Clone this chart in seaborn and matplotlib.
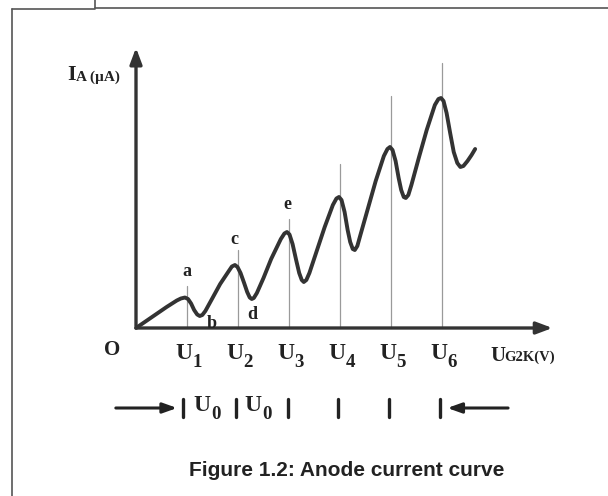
import seaborn as sns
import matplotlib.pyplot as plt
import pandas as pd

# anode current curve (x in units of U, y arbitrary)
volt = [0.0, 0.2, 0.4, 0.6, 0.8, 0.88, 0.96, 1.02, 1.08, 1.14, 1.2, 1.25, 1.3, 1.36,
        1.5, 1.65, 1.82, 1.88, 1.94, 1.99, 2.05, 2.12, 2.18, 2.23, 2.27, 2.31, 2.37,
        2.5, 2.65, 2.84, 2.91, 2.96, 3.01, 3.07, 3.14, 3.2, 3.25, 3.29, 3.34, 3.4,
        3.55, 3.7, 3.86, 3.93, 3.98, 4.03, 4.09, 4.15, 4.2, 4.25, 4.29, 4.34, 4.4,
        4.55, 4.7, 4.86, 4.93, 4.98, 5.03, 5.09, 5.15, 5.2, 5.25, 5.29, 5.34, 5.4,
        5.55, 5.7, 5.86, 5.93, 5.98, 6.03, 6.09, 6.16, 6.23, 6.3, 6.36, 6.42, 6.5,
        6.58, 6.65]
current = [0.0, 0.7, 1.4, 2.1, 2.75, 2.95, 3.05, 2.9, 2.45, 1.8, 1.35, 1.2, 1.3, 1.7,
           3.0, 4.4, 5.7, 6.15, 6.3, 6.1, 5.5, 4.5, 3.6, 3.05, 2.9, 3.0, 3.5,
           5.0, 6.9, 8.9, 9.45, 9.6, 9.35, 8.4, 6.8, 5.5, 4.8, 4.6, 4.8, 5.5,
           7.8, 10.1, 12.3, 12.95, 13.1, 12.8, 11.6, 9.8, 8.6, 7.9, 7.8, 8.2, 9.3,
           12.0, 14.7, 17.2, 17.9, 18.1, 17.8, 16.7, 15.0, 13.8, 13.1, 13.0, 13.3, 14.3,
           17.1, 19.8, 22.3, 22.9, 23.0, 22.7, 21.5, 19.5, 17.6, 16.5, 16.1, 16.2, 16.7,
           17.3, 17.9]

u_pos = [1, 2, 3, 4, 5, 6]
u_subs = ["1", "2", "3", "4", "5", "6"]
guide_top = [4.2, 7.8, 10.9, 16.4, 23.2, 26.5]
point_letters = ["a", "c", "e", "b", "d"]
letter_x = [1.0, 1.93, 2.97, 1.49, 2.27]
letter_y = [5.6, 8.8, 12.3, 0.4, 1.3]
row_ticks = [0.92, 1.96, 2.98, 3.96, 4.96, 5.96]

sns.set_theme(style="white")

fig = plt.figure(figsize=(6.08, 4.96), dpi=100)
ax = fig.add_axes([0, 0, 1, 1])
# 1 unit in x = 51 px, origin at px 136; 1 unit in y = 10 px, origin at py 328
ax.set_xlim(-136 / 51, 472 / 51)
ax.set_ylim(-16.8, 32.8)
ax.axis("off")

# frame of the scanned page
line_kw = dict(color="#555555", lw=1.2, transform=fig.transFigure, clip_on=False)
fig.add_artist(plt.Line2D([12 / 608, 12 / 608], [0, 1 - 9 / 496], **line_kw))
fig.add_artist(plt.Line2D([12 / 608, 95 / 608], [1 - 9 / 496, 1 - 9 / 496], **line_kw))
fig.add_artist(plt.Line2D([95 / 608, 95 / 608], [1 - 8 / 496, 1], **line_kw))
fig.add_artist(plt.Line2D([95 / 608, 1], [1 - 8 / 496, 1 - 8 / 496], **line_kw))

# guide lines
for x, top in zip(u_pos, guide_top):
    ax.plot([x, x], [0, top], color="#9a9a9a", lw=0.9, zorder=1)

# axes arrows
arrow_kw = dict(arrowstyle="-|>,head_length=0.8,head_width=0.3", color="#333333", lw=2.4)
ax.annotate("", xy=(0, 28.3), xytext=(0, -0.1), arrowprops=arrow_kw)
ax.annotate("", xy=(8.22, 0), xytext=(-0.05, 0), arrowprops=arrow_kw)

df = pd.DataFrame({"U": volt, "I": current})
sns.lineplot(data=df, x="U", y="I", ax=ax, color="#333333", lw=2.8, zorder=3,
             solid_joinstyle="round", solid_capstyle="round")

serif = "Liberation Serif"
txt = dict(fontfamily=serif, fontweight="bold", color="#222222")


def u_label(x, y, sub, size=17):
    # big "U" with a large, dropped subscript
    ax.text(x - 0.02, y, "U", fontsize=size, ha="right", va="center", **txt)
    ax.text(x - 0.01, y - 0.9, sub, fontsize=size * 0.8, ha="left", va="center", **txt)


ax.text(-0.46, -1.2, "O", fontsize=15, ha="center", va="top", **txt)
for x, sub in zip(u_pos, u_subs):
    u_label(x + 0.12, -2.6, sub)

ax.text(-1.35, 25.3, "I", fontsize=16, ha="left", va="center", **txt)
ax.text(-1.18, 25.1, "A (µA)", fontsize=11, ha="left", va="center", **txt)
ax.text(6.95, -2.8, "U", fontsize=15, ha="left", va="center", **txt)
ax.text(7.22, -2.9, "G2K(V)", fontsize=10.5, ha="left", va="center", **txt)

for lab, x, y in zip(point_letters, letter_x, letter_y):
    ax.text(x, y, lab, fontsize=13, ha="center", va="center", **txt)

# spacing row below the axis
row_y = -8.0
for x in row_ticks:
    ax.plot([x, x], [row_y - 0.9, row_y + 0.9], color="#222222", lw=2.4)
u_label(1.48, row_y + 0.2, "0")
u_label(2.48, row_y + 0.2, "0")
head = dict(arrowstyle="-|>,head_length=0.7,head_width=0.25", color="#222222", lw=2.2)
ax.annotate("", xy=(0.86, row_y), xytext=(-0.45, row_y), arrowprops=head)
ax.annotate("", xy=(6.05, row_y), xytext=(7.35, row_y), arrowprops=head)

fig.text(347 / 608, 1 - 470 / 496, "Figure 1.2: Anode current curve",
         fontsize=15, fontfamily="Liberation Sans", fontweight="bold",
         ha="center", va="center", color="#222222")

fig.savefig("out.png", dpi=100)
